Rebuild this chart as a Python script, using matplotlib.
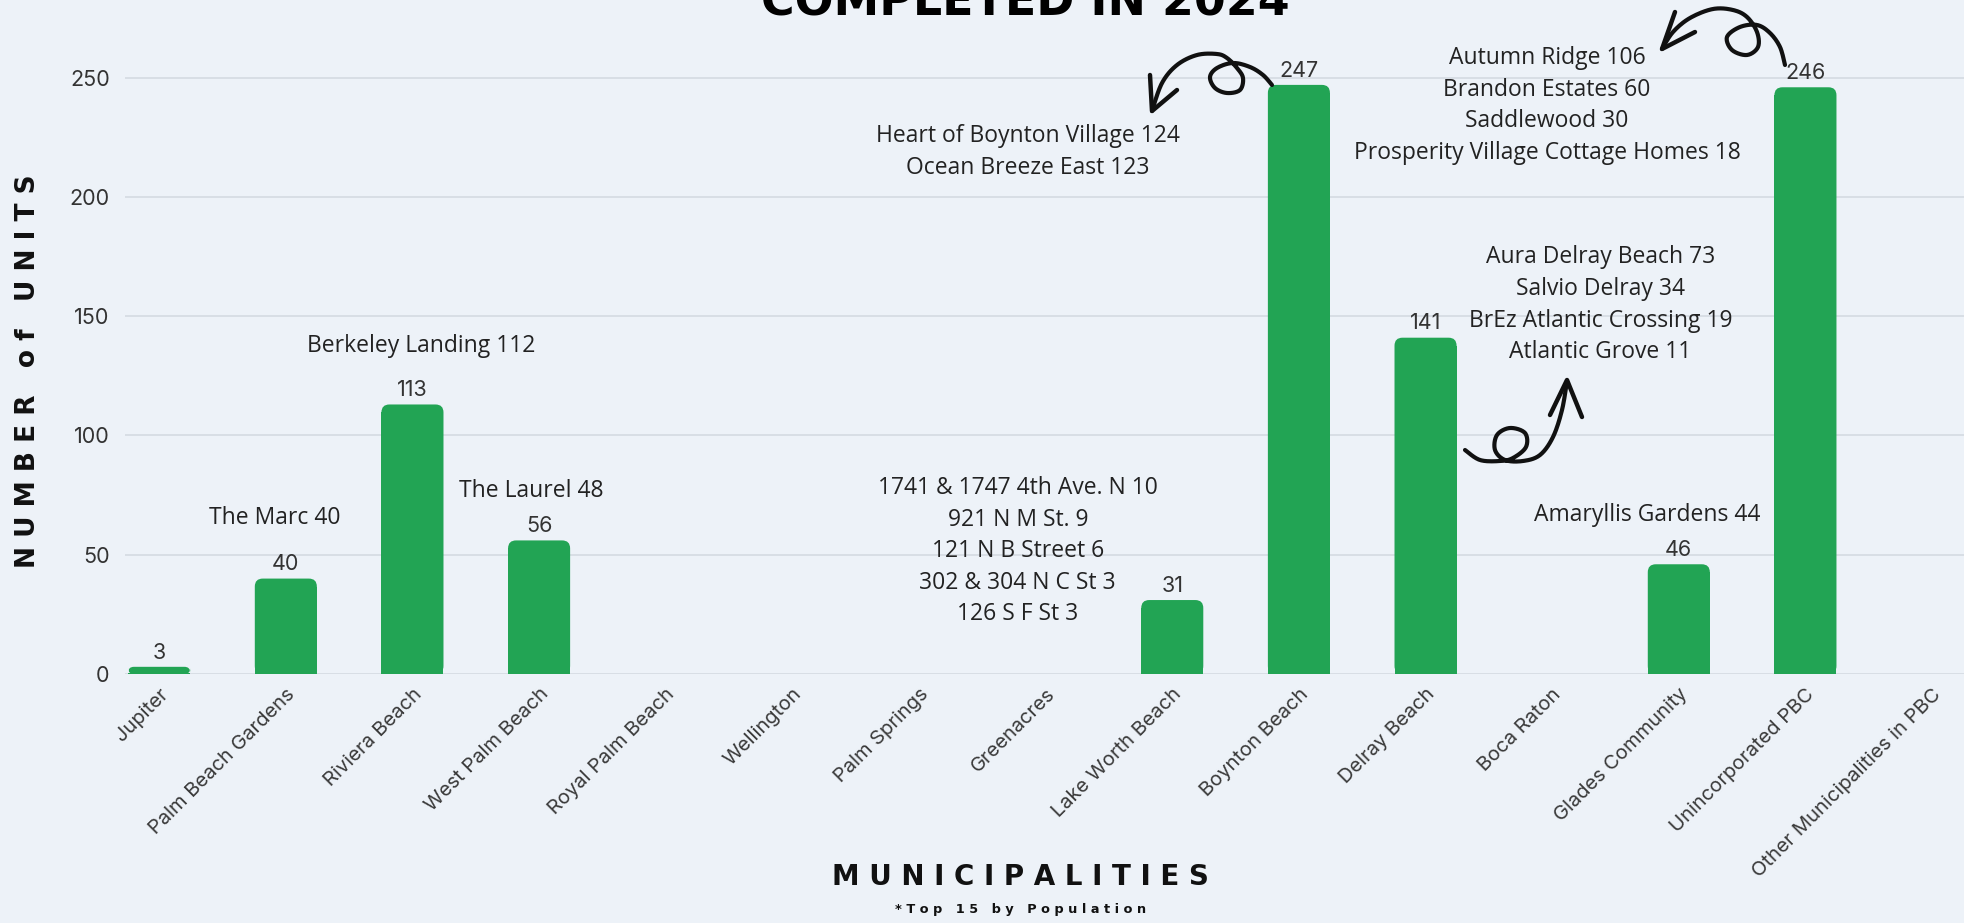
import numpy as np
import matplotlib
matplotlib.use("Agg")
import matplotlib.pyplot as plt
from matplotlib.patches import FancyBboxPatch

# data
municipalities = ["Jupiter", "Palm Beach Gardens", "Riviera Beach", "West Palm Beach",
                  "Royal Palm Beach", "Wellington", "Palm Springs", "Greenacres",
                  "Lake Worth Beach", "Boynton Beach", "Delray Beach", "Boca Raton",
                  "Glades Community", "Unincorporated PBC", "Other Municipalities in PBC"]
units = [3, 40, 113, 56, 0, 0, 0, 0, 31, 247, 141, 0, 46, 246, 0]

# project notes (text per note block)
notes = [
    "The Marc 40",
    "Berkeley Landing 112",
    "The Laurel 48",
    "1741 & 1747 4th Ave. N 10\n921 N M St. 9\n121 N B Street 6\n302 & 304 N C St 3\n126 S F St 3",
    "Heart of Boynton Village 124\nOcean Breeze East 123",
    "Autumn Ridge 106\nBrandon Estates 60\nSaddlewood 30\nProsperity Village Cottage Homes 18",
    "Aura Delray Beach 73\nSalvio Delray 34\nBrEz Atlantic Crossing 19\nAtlantic Grove 11",
    "Amaryllis Gardens 44",
]
# where each note block sits (x index, y units)
note_pos = [(0.91, 65.6), (2.07, 137.6), (2.94, 76.7), (6.78, 51.5),
            (6.86, 218.8), (10.96, 238.3), (11.38, 154.8), (11.75, 66.7)]

BG = "#edf2f8"
GREEN = "#22a454"
W, H = 1965, 923

fig = plt.figure(figsize=(W / 100, H / 100), dpi=100, facecolor=BG)
ax = fig.add_axes([125 / W, 0.2698, 1 - 125 / W, 0.7235])
ax.set_facecolor(BG)

x = np.arange(len(municipalities))
ax.set_xlim(-0.27, 14.26)
ax.set_ylim(0, 280)

# rounded top bars
bw = 0.49
rx = 0.063
aspect = 53.0
bars = ax.bar(x, units, width=bw, color=GREEN, zorder=3)
for b, h in zip(bars, units):
    if h <= 0:
        continue
    r = min(rx, h * 0.8 / aspect)
    ry = r * aspect
    b.set_height(max(h - ry, 0))
    ax.add_patch(FancyBboxPatch((b.get_x(), 0), bw, h,
                                boxstyle=f"round,pad=0,rounding_size={r}",
                                mutation_aspect=aspect, fc=GREEN, ec="none", zorder=3))
    ax.text(b.get_x() + bw / 2, h + 1.8, str(h), ha="center", va="bottom",
            fontsize=15.5, color="#333333", family="Inter", zorder=4)

ax.set_yticks(range(0, 251, 50))
ax.grid(axis="y", color="#d6dce4", lw=1.3, zorder=0)
ax.set_axisbelow(True)
for s in ax.spines.values():
    s.set_visible(False)
ax.tick_params(axis="y", length=0, pad=11, labelsize=15.5, labelcolor="#333333")
ax.tick_params(axis="x", length=0, pad=8)
for lab in ax.get_yticklabels():
    lab.set_family("Inter")

ax.set_xticks(x)
ax.set_xticklabels(municipalities, rotation=45, ha="right", va="top",
                   rotation_mode="anchor", fontsize=14.5, color="#3a3a3a", family="Inter")

for txt, (nx, ny) in zip(notes, note_pos):
    ax.text(nx, ny, txt, ha="center", va="center", fontsize=16.5, color="#222222",
            family="Open Sans", linespacing=1.42, zorder=5)

# titles
fig.text(1025 / W, 1 - 15 / H, "COMPLETED IN 2024", ha="center", va="baseline",
         fontsize=33, weight="bold", color="black")
fig.text(28 / W, 1 - 371 / H, "N U M B E R   o f   U N I T S", rotation=90,
         ha="center", va="center", fontsize=19, weight="bold", color="#111111")
fig.text(1020 / W, 1 - 877 / H, "M U N I C I P A L I T I E S", ha="center", va="center",
         fontsize=20, weight="bold", color="#111111")
fig.text(1021 / W, 1 - 909 / H, "* T o p   1 5   b y   P o p u l a t i o n", ha="center",
         va="center", fontsize=9.3, weight="bold", color="#111111")

# hand drawn curly arrows (figure pixel space)
def smooth(pts, n=14):
    p = np.array(pts, float)
    p = np.vstack([p[0], p, p[-1]])
    out = []
    t = np.linspace(0, 1, n, endpoint=False)[:, None]
    for i in range(1, len(p) - 2):
        p0, p1, p2, p3 = p[i - 1], p[i], p[i + 1], p[i + 2]
        out.append(0.5 * (2 * p1 + (-p0 + p2) * t + (2 * p0 - 5 * p1 + 4 * p2 - p3) * t ** 2
                          + (-p0 + 3 * p1 - 3 * p2 + p3) * t ** 3))
    out.append(p[-2][None])
    return np.vstack(out)

arrows = [
    ([(1272, 85), (1263, 75), (1250, 67), (1233, 63), (1217, 68), (1210, 77), (1215, 88),
      (1227, 93), (1240, 90), (1243, 78), (1237, 68), (1227, 58), (1217, 54), (1197, 55),
      (1177, 65), (1162, 83), (1152, 111)],
     [(1150, 75), (1152, 111), (1177, 90)]),
    ([(1785, 65), (1780, 47), (1770, 33), (1757, 25), (1740, 27), (1727, 37), (1732, 50),
      (1747, 55), (1758, 47), (1757, 32), (1747, 17), (1733, 10), (1713, 9), (1690, 18),
      (1673, 32), (1662, 49)],
     [(1675, 12), (1662, 49), (1695, 32)]),
    ([(1465, 450), (1480, 460), (1500, 461), (1513, 458), (1526, 447), (1525, 433),
      (1510, 428), (1497, 435), (1495, 450), (1505, 460), (1523, 461), (1540, 455),
      (1553, 437), (1562, 410), (1567, 381)],
     [(1550, 415), (1567, 380), (1582, 417)]),
]
ov = fig.add_axes([0, 0, 1, 1], facecolor="none")
ov.set_xlim(0, W)
ov.set_ylim(H, 0)
ov.axis("off")
for body, head in arrows:
    c = smooth(body)
    ov.plot(c[:, 0], c[:, 1], color="#111111", lw=3.0, solid_capstyle="round",
            solid_joinstyle="round")
    hh = np.array(head)
    ov.plot(hh[:, 0], hh[:, 1], color="#111111", lw=3.2, solid_capstyle="round",
            solid_joinstyle="round")

fig.savefig("out.png", dpi=100, facecolor=BG)
